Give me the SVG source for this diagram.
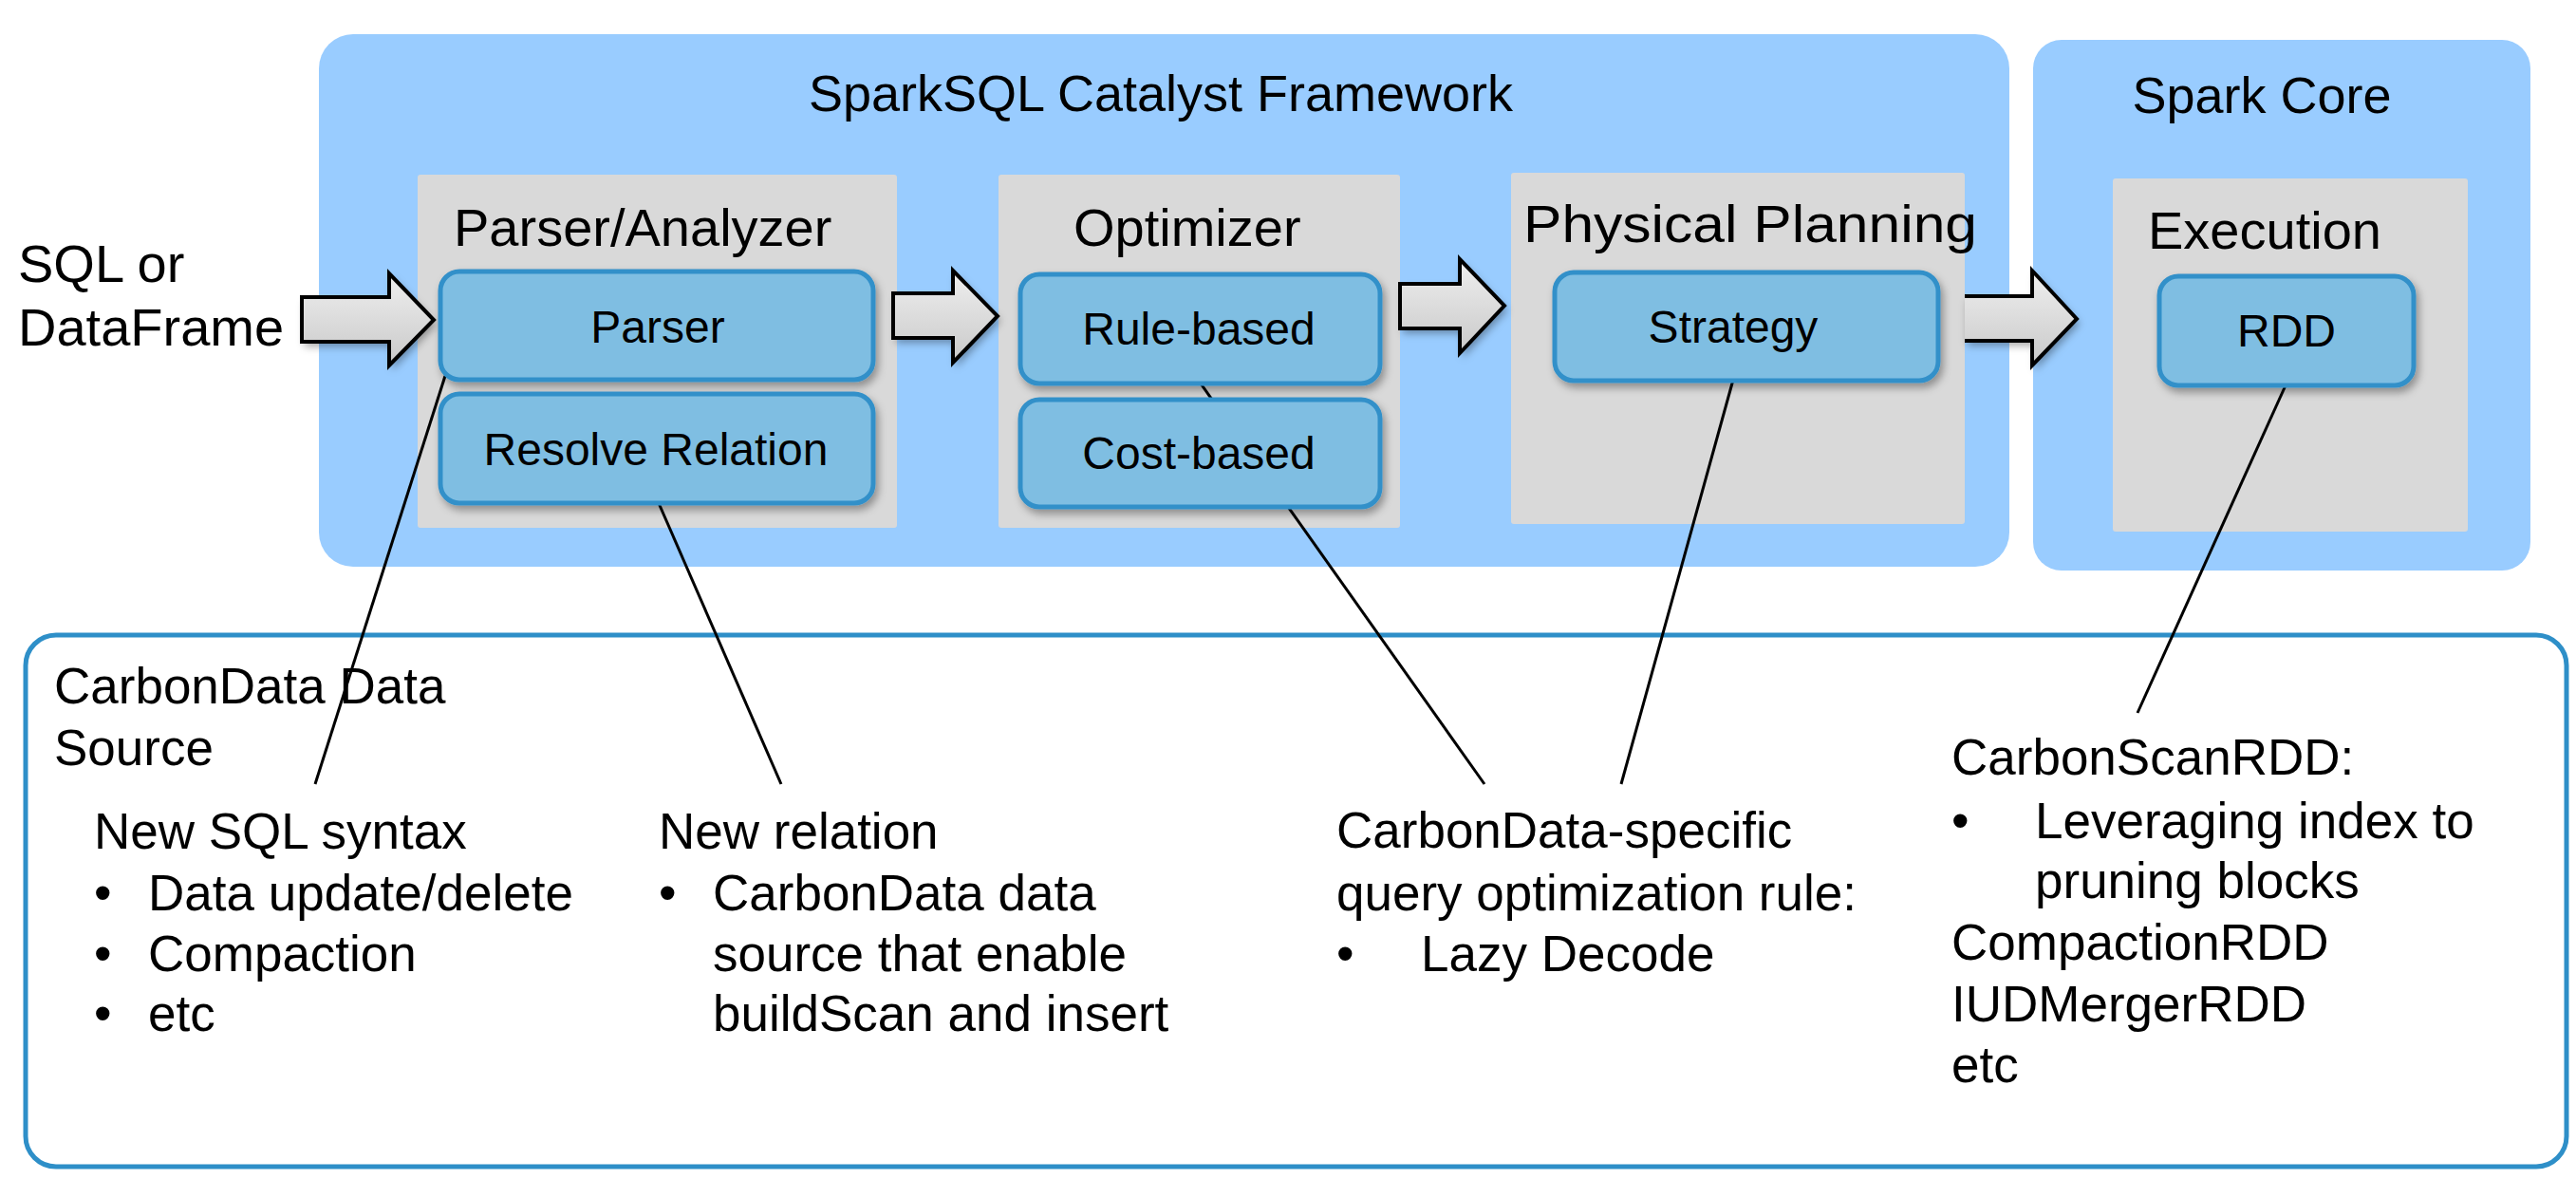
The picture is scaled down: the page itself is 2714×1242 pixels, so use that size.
<svg xmlns="http://www.w3.org/2000/svg" width="2714" height="1242" viewBox="0 0 2714 1242">
<defs>
<linearGradient id="arrowGrad" x1="0" y1="0" x2="0" y2="1">
<stop offset="0" stop-color="#EFEFEF"/>
<stop offset="1" stop-color="#C9C9C9"/>
</linearGradient>
<filter id="shadow" x="-10%" y="-10%" width="125%" height="140%">
<feDropShadow dx="3" dy="5" stdDeviation="4" flood-color="#000" flood-opacity="0.35"/>
</filter>
<style>
.frame{fill:#99CCFF;}
.stage{fill:#D9D9D9;}
.op{fill:#7FBEE2;stroke:#3390C9;stroke-width:5;filter:url(#shadow);}
.t{font-family:"Liberation Sans",Arial,sans-serif;fill:#000;}
.hdr{font-size:56px;}
.ttl{font-size:54px;}
.lbl{font-size:48px;text-anchor:middle;}
.body{font-size:53px;}
.link{stroke:#000;stroke-width:3;fill:none;}
.blk{fill:url(#arrowGrad);filter:url(#shadow);}
.blkline{fill:none;stroke:#000;stroke-width:4;stroke-linejoin:miter;}
.src{fill:none;stroke:#2E8FC8;stroke-width:5;}
</style>
</defs>
<rect width="2714" height="1242" fill="#FFFFFF"/>

<g id="catalyst-framework">
<rect class="frame" x="336" y="36" width="1781" height="561" rx="36"/>
<text class="t ttl" x="1223" y="117" text-anchor="middle">SparkSQL Catalyst Framework</text>
</g>
<g id="spark-core">
<rect class="frame" x="2142" y="42" width="524" height="559" rx="30"/>
<text class="t ttl" x="2383" y="119" text-anchor="middle">Spark Core</text>
</g>

<g id="input">
<text class="t hdr" x="19" y="297">SQL or</text>
<text class="t hdr" x="19" y="364">DataFrame</text>
</g>

<g id="parser-analyzer">
<rect class="stage" x="440" y="184" width="505" height="372" rx="3"/>
<text class="t hdr" x="478" y="259">Parser/Analyzer</text>
</g>
<g id="optimizer">
<rect class="stage" x="1052" y="184" width="423" height="372" rx="3"/>
<text class="t hdr" x="1131" y="259">Optimizer</text>
</g>
<g id="physical-planning">
<rect class="stage" x="1592" y="182" width="478" height="370" rx="3"/>
<text class="t hdr" x="1605" y="255" textLength="478" lengthAdjust="spacingAndGlyphs">Physical Planning</text>
</g>
<g id="execution">
<rect class="stage" x="2226" y="188" width="374" height="372" rx="3"/>
<text class="t hdr" x="2263" y="262">Execution</text>
</g>

<g id="carbondata-source">
<rect class="src" x="27" y="669" width="2677" height="560" rx="32"/>
<text class="t body" x="57" y="741">CarbonData Data</text>
<text class="t body" x="57" y="806">Source</text>
</g>

<g id="connectors">
<path class="blk" d="M318 313 H410 V288 L457 337 L410 385 V360 H318 Z"/>
<path class="blkline" d="M318 313 H410 V288 L457 337 L410 385 V360 H318 Z"/>
<path class="blk" d="M941 309 H1004 V285 L1051 333 L1004 382 V356 H941 Z"/>
<path class="blkline" d="M941 309 H1004 V285 L1051 333 L1004 382 V356 H941 Z"/>
<path class="blk" d="M1475 299 H1538 V273 L1585 322 L1538 372 V346 H1475 Z"/>
<path class="blkline" d="M1475 299 H1538 V273 L1585 322 L1538 372 V346 H1475 Z"/>
<path class="blk" d="M2070 312 H2141 V285 L2188 336 L2141 385 V359 H2070 Z"/>
<path class="blkline" d="M2070 312 H2141 V285 L2188 336 L2141 385 V359 H2070"/>
<line class="link" x1="469" y1="396" x2="332" y2="826"/>
<line class="link" x1="694" y1="530" x2="823" y2="826"/>
<line class="link" x1="1265" y1="404" x2="1564" y2="826"/>
<line class="link" x1="1826" y1="400" x2="1708" y2="826"/>
<line class="link" x1="2408" y1="406" x2="2252" y2="751"/>
</g>

<g id="parser">
<rect class="op" x="464" y="286" width="456" height="114" rx="20"/>
<text class="t lbl" x="693" y="361">Parser</text>
</g>
<g id="resolve-relation">
<rect class="op" x="464" y="415" width="456" height="115" rx="20"/>
<text class="t lbl" x="691" y="490">Resolve Relation</text>
</g>
<g id="rule-based">
<rect class="op" x="1075" y="289" width="379" height="115" rx="20"/>
<text class="t lbl" x="1263" y="363">Rule-based</text>
</g>
<g id="cost-based">
<rect class="op" x="1075" y="421" width="379" height="113" rx="20"/>
<text class="t lbl" x="1263" y="494">Cost-based</text>
</g>
<g id="strategy">
<rect class="op" x="1638" y="287" width="404" height="114" rx="20"/>
<text class="t lbl" x="1826" y="361">Strategy</text>
</g>
<g id="rdd">
<rect class="op" x="2275" y="291" width="268" height="115" rx="20"/>
<text class="t lbl" x="2409" y="365">RDD</text>
</g>

<g id="new-sql-syntax">
<text class="t body" x="99" y="894">New SQL syntax</text>
<text class="t body" x="99" y="959">•</text>
<text class="t body" x="156" y="959">Data update/delete</text>
<text class="t body" x="99" y="1023">•</text>
<text class="t body" x="156" y="1023">Compaction</text>
<text class="t body" x="99" y="1086">•</text>
<text class="t body" x="156" y="1086">etc</text>
</g>
<g id="new-relation">
<text class="t body" x="694" y="894">New relation</text>
<text class="t body" x="694" y="959">•</text>
<text class="t body" x="751" y="959">CarbonData data</text>
<text class="t body" x="751" y="1023">source that enable</text>
<text class="t body" x="751" y="1086">buildScan and insert</text>
</g>
<g id="optimization-rule">
<text class="t body" x="1408" y="893">CarbonData-specific</text>
<text class="t body" x="1408" y="959">query optimization rule:</text>
<text class="t body" x="1408" y="1023">•</text>
<text class="t body" x="1497" y="1023">Lazy Decode</text>
</g>
<g id="carbon-rdds">
<text class="t body" x="2056" y="816">CarbonScanRDD:</text>
<text class="t body" x="2056" y="883">•</text>
<text class="t body" x="2144" y="883">Leveraging index to</text>
<text class="t body" x="2144" y="946">pruning blocks</text>
<text class="t body" x="2056" y="1011">CompactionRDD</text>
<text class="t body" x="2056" y="1076">IUDMergerRDD</text>
<text class="t body" x="2056" y="1140">etc</text>
</g>
</svg>
